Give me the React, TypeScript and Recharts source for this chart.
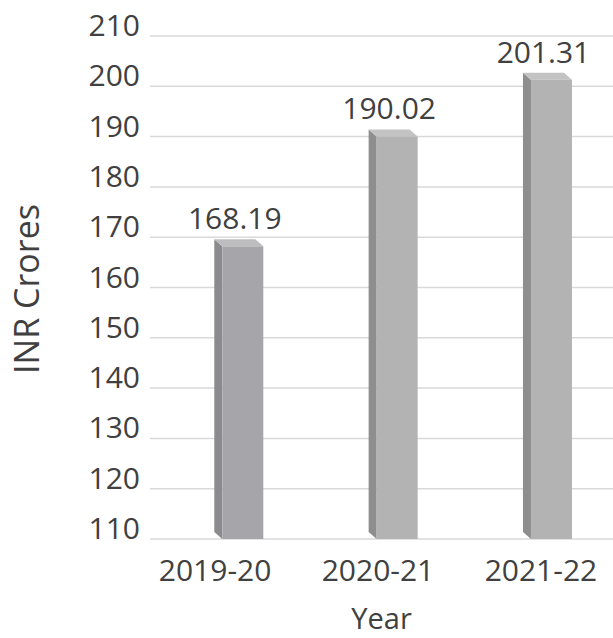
import React from 'react';
import { BarChart, Bar, XAxis, YAxis, CartesianGrid, Cell, LabelList } from 'recharts';

const years = ['2019-20', '2020-21', '2021-22'];
const values = [168.19, 190.02, 201.31];
const yTicks = [110, 120, 130, 140, 150, 160, 170, 180, 190, 200, 210];
const frontColors = ['#a6a6aa', '#b3b3b3', '#b3b3b3'];
const sideColors = ['#8b8b8f', '#8e8e8e', '#8e8e8e'];
const topColors = ['#bdbdbf', '#c3c3c3', '#c3c3c3'];

const data = years.map((y, i) => ({ year: y, value: values[i], idx: i }));

const FONT = '"Open Sans", sans-serif';
const TEXT = '#404040';
const DX = 8;
const DY = 7;
const SHIFT = 15.3;

const Bar3D = (props: any) => {
  const { x, y, width, height, idx } = props;
  const fx = x + SHIFT;
  const w = width;
  const bottom = y + height;
  const side = `${fx},${y} ${fx - DX},${y - DY} ${fx - DX},${bottom - DY} ${fx},${bottom}`;
  const top = `${fx},${y} ${fx - DX},${y - DY} ${fx + w - DX},${y - DY} ${fx + w},${y}`;
  return (
    <g>
      <polygon points={side} fill={sideColors[idx]} />
      <polygon points={top} fill={topColors[idx]} />
      <rect x={fx} y={y} width={w} height={height} fill={frontColors[idx]} />
    </g>
  );
};

const ValueLabel = (props: any) => {
  const { x, y, width, value } = props;
  const cx = x + SHIFT + width / 2 - 8;
  return (
    <text x={cx} y={y - 17} textAnchor="middle" fontFamily={FONT} fontSize={30} fill={TEXT}>
      {Number(value).toFixed(2)}
    </text>
  );
};

const XTick = (props: any) => {
  const { x, payload, index } = props;
  const dx = (index - 1) * 8.6 - 3.5;
  return (
    <text x={x + dx} y={581} textAnchor="middle" fontFamily={FONT} fontSize={30} fill={TEXT}>
      {payload.value}
    </text>
  );
};

const YTick = (props: any) => {
  const { y, payload } = props;
  return (
    <text x={140} y={y} textAnchor="end" fontFamily={FONT} fontSize={30} fill={TEXT}>
      {payload.value}
    </text>
  );
};

const YLabel = () => (
  <text
    transform="translate(39,289) rotate(-90)"
    x={0}
    y={0}
    textAnchor="middle"
    fontFamily={FONT}
    fontSize={34}
    fill={TEXT}
  >
    INR Crores
  </text>
);

const XLabel = () => (
  <text x={381.5} y={629} textAnchor="middle" fontFamily={FONT} fontSize={29} fill={TEXT}>
    Year
  </text>
);

export default function App() {
  return (
    <div style={{ position: 'absolute', left: 0, top: 0, background: '#fff' }}>
      <BarChart
        width={613}
        height={638}
        data={data}
        margin={{ top: 36, right: 0, left: 0, bottom: 0 }}
      >
        <CartesianGrid vertical={false} stroke="#d9d9d9" strokeWidth={1.5} />
        <XAxis
          dataKey="year"
          height={99}
          axisLine={false}
          tickLine={false}
          tick={<XTick />}
          interval={0}
          label={<XLabel />}
        />
        <YAxis
          width={150}
          domain={[110, 210]}
          ticks={yTicks}
          axisLine={false}
          tickLine={false}
          tick={<YTick />}
          interval={0}
          allowDataOverflow
          label={<YLabel />}
        />
        <Bar dataKey="value" barSize={41} shape={<Bar3D />} isAnimationActive={false}>
          {data.map((d, i) => (
            <Cell key={i} fill={frontColors[i]} />
          ))}
          <LabelList dataKey="value" content={<ValueLabel />} />
        </Bar>
      </BarChart>
    </div>
  );
}
